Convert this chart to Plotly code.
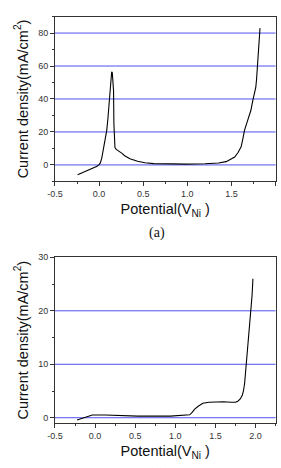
import plotly.graph_objects as go

# Panel (a)
xa = [-0.243, -0.16, -0.096, -0.05, -0.023, 0.0, 0.014, 0.03, 0.05, 0.07, 0.087, 0.1, 0.113, 0.125, 0.135,
      0.143, 0.15, 0.157, 0.164, 0.168, 0.172, 0.18, 0.195, 0.234, 0.26, 0.29, 0.35, 0.436, 0.52, 0.62,
      0.8, 0.987, 1.2, 1.354, 1.44, 1.5, 1.537, 1.575, 1.61, 1.63, 1.648, 1.684, 1.72, 1.74, 1.765,
      1.776, 1.785, 1.794, 1.81, 1.824]
ya = [-6.0, -4.2, -2.8, -1.8, -0.8, 0.2, 1.2, 4.0, 9.2, 15.0, 21.0, 28.0, 37.0, 47.0, 55.0,
      56.5, 56.0, 52.0, 45.0, 25.0, 13.0, 10.5, 9.4, 8.2, 7.0, 5.6, 3.8, 2.2, 1.3, 0.8,
      0.5, 0.5, 0.7, 1.2, 2.0, 3.5, 4.8, 7.5, 11.0, 16.0, 21.0, 27.0, 33.0, 38.5, 44.0,
      47.0, 52.0, 59.0, 71.0, 83.0]

# Panel (b)
xb = [-0.224, -0.17, -0.115, -0.07, -0.034, 0.128, 0.533, 0.938, 1.12, 1.18, 1.21, 1.242, 1.29,
      1.344, 1.42, 1.505, 1.6, 1.7, 1.75, 1.78, 1.81, 1.835, 1.85, 1.865, 1.878, 1.895, 1.91,
      1.928, 1.943, 1.958, 1.968]
yb = [-0.43, -0.15, 0.2, 0.4, 0.5, 0.5, 0.3, 0.3, 0.4, 0.55, 1.0, 1.6, 2.2,
      2.7, 2.9, 3.0, 3.0, 2.9, 2.9, 3.1, 3.5, 4.2, 5.0, 6.5, 8.7, 11.0, 13.7,
      16.5, 19.3, 23.0, 26.0]

xticks_a = [-0.5, 0.0, 0.5, 1.0, 1.5, 2.0]
yticks_a = [0, 20, 40, 60, 80]
xticks_b = [-0.5, 0.0, 0.5, 1.0, 1.5, 2.0]
yticks_b = [0, 10, 20, 30]

BLUE = "rgb(80,80,240)"

fig = go.Figure()
fig.add_trace(go.Scatter(x=xa, y=ya, mode="lines", line=dict(color="black", width=1.1),
                         xaxis="x", yaxis="y", showlegend=False))
fig.add_trace(go.Scatter(x=xb, y=yb, mode="lines", line=dict(color="black", width=1.1),
                         xaxis="x2", yaxis="y2", showlegend=False))

tickfont = dict(family="Liberation Sans, Arial", size=9, color="#333")
titlefont = dict(family="Liberation Sans, Arial", size=14.5, color="#111")

def xax(domain, rng, ticks, anchor):
    return dict(domain=domain, range=rng, tickvals=ticks, ticktext=[f"{t:.1f}" for t in ticks],
                showline=True, linecolor="#333", linewidth=1, mirror=True, ticks="outside",
                ticklen=4, tickcolor="#333", showgrid=False, zeroline=False, tickfont=tickfont,
                minor=dict(dtick=0.25, ticks="outside", ticklen=2, tickcolor="#333", showgrid=False),
                anchor=anchor,
                title=dict(text="Potential(V<sub>Ni</sub> )", font=titlefont, standoff=5))

def yax(domain, rng, ticks, minor, anchor):
    return dict(domain=domain, range=rng, tickvals=ticks,
                showline=True, linecolor="#333",
                linewidth=1, mirror=True, ticks="outside", ticklen=4, tickcolor="#333",
                zeroline=False, tickfont=tickfont, anchor=anchor, showgrid=False,
                minor=dict(dtick=minor, ticks="outside", ticklen=2, tickcolor="#333", showgrid=False),
                title=dict(text="Current density(mA/cm<sup>2</sup>)", font=titlefont, standoff=6))

shapes = []
for xr, yr, ticks, top in (("x", "y", yticks_a, 90), ("x2", "y2", yticks_b, 30)):
    for t in ticks:
        if t >= top:
            continue
        shapes.append(dict(type="line", xref=f"{xr} domain", yref=yr, x0=0, x1=1, y0=t, y1=t,
                           line=dict(color=BLUE, width=1), layer="below"))

fig.update_layout(
    width=281, height=468, margin=dict(l=0, r=0, t=0, b=0),
    paper_bgcolor="white", plot_bgcolor="white",
    xaxis=xax([0.172, 0.980], [-0.5, 2.0], xticks_a, "y"),
    yaxis=yax([0.619, 0.975], [-10, 90], yticks_a, 10, "x"),
    xaxis2=xax([0.172, 0.980], [-0.5, 2.25], xticks_b, "y2"),
    yaxis2=yax([0.097, 0.455], [-1, 30], yticks_b, 5, "x2"),
    shapes=shapes,
    annotations=[
        dict(text="(a)", x=153/281, y=1-230/468, xref="paper", yref="paper", showarrow=False,
             font=dict(family="Liberation Serif, Times New Roman", size=14, color="#111")),
        dict(text="(b)", x=153/281, y=1-474/468, xref="paper", yref="paper", showarrow=False,
             yanchor="middle",
             font=dict(family="Liberation Serif, Times New Roman", size=14, color="#111")),
    ],
)

fig.write_html("out.html")
